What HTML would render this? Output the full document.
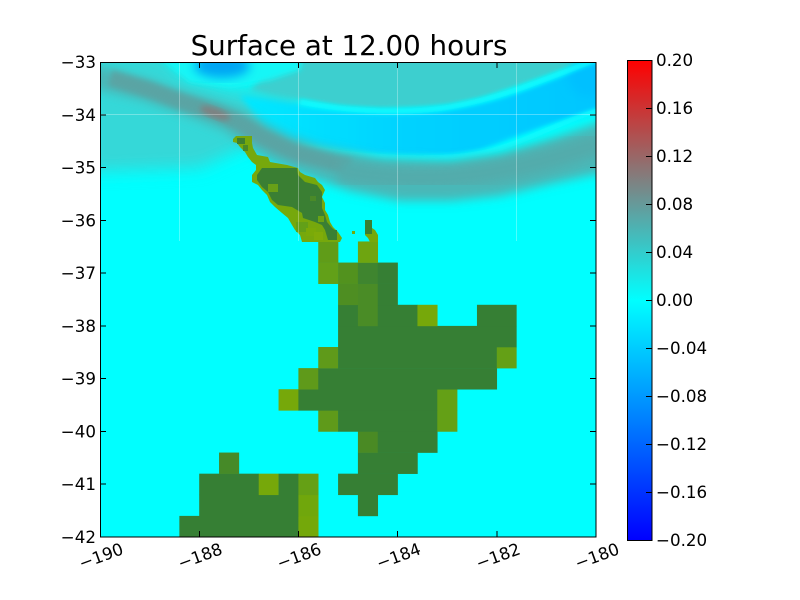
<!DOCTYPE html>
<html>
<head>
<meta charset="utf-8">
<style>
html,body{margin:0;padding:0;background:#fff;}
svg{display:block;}
text{font-family:"DejaVu Sans","Liberation Sans",sans-serif;fill:#000;}
</style>
</head>
<body>
<svg width="800" height="600" viewBox="0 0 800 600" xmlns="http://www.w3.org/2000/svg">
<defs>
  <clipPath id="plot"><rect x="100" y="62" width="496" height="475"/></clipPath>
  <filter id="b8" x="-20%" y="-20%" width="140%" height="140%"><feGaussianBlur stdDeviation="8"/></filter>
  <filter id="b5" x="-20%" y="-20%" width="140%" height="140%"><feGaussianBlur stdDeviation="5"/></filter>
  <filter id="b3" x="-20%" y="-20%" width="140%" height="140%"><feGaussianBlur stdDeviation="3"/></filter>
  <filter id="b2" x="-20%" y="-20%" width="140%" height="140%"><feGaussianBlur stdDeviation="2"/></filter>
  <linearGradient id="blueband" gradientUnits="userSpaceOnUse" x1="250" y1="0" x2="600" y2="0">
    <stop offset="0" stop-color="#00e8ff"/>
    <stop offset="0.45" stop-color="#00d2ff"/>
    <stop offset="1" stop-color="#00c6ff"/>
  </linearGradient>
  <linearGradient id="cbar" x1="0" y1="0" x2="0" y2="1">
    <stop offset="0" stop-color="#ff0000"/>
    <stop offset="0.25" stop-color="#808080"/>
    <stop offset="0.5" stop-color="#00ffff"/>
    <stop offset="1" stop-color="#0000ff"/>
  </linearGradient>
</defs>

<!-- Title -->
<text x="349" y="55" font-size="27.7" text-anchor="middle">Surface at 12.00 hours</text>

<!-- Field -->
<g clip-path="url(#plot)">
  <rect x="100" y="62" width="496" height="475" fill="#00ffff"/>
  <!-- left teal -->
  <path d="M90,50 L160,50 L185,75 L230,88 L300,95 L300,130 L240,150 L200,168 L90,172 Z" fill="#36d8d8" filter="url(#b8)"/>
  <!-- top teal -->
  <path d="M285,50 L610,50 L600,56 L560,72 L520,86 L480,100 L450,106 L420,108 L380,110 L340,108 L300,100 L270,95 L250,90 Z" fill="#3dcfcf" filter="url(#b3)"/>
  <!-- bright area around blob -->
  <path d="M150,50 L305,50 L300,70 L270,80 L230,87 L190,82 Z" fill="#14f6f6" filter="url(#b3)"/>
  <!-- blue band -->
  <path d="M240,95 C300,104 350,114 420,110 S520,92 606,56 L606,108 L580,117 L547,126 L513,138 L480,151 L450,157 L380,156 L330,149 L270,138 Z" fill="url(#blueband)" filter="url(#b3)"/>
  <ellipse cx="590" cy="78" rx="22" ry="18" fill="#00c0ff" filter="url(#b5)"/>
  <!-- cyan stripes -->
  <path d="M300,102 C350,112 410,114 450,107 S520,90 600,58" fill="none" stroke="#0cfcff" stroke-width="5" filter="url(#b2)"/>
  <path d="M300,146 C340,154 390,160 450,157 S540,128 600,110" fill="none" stroke="#0cfcff" stroke-width="5" filter="url(#b2)"/>
  <!-- gray band -->
  <path d="M90,64 L150,80 L183,92 L217,101 L245,111 L265,123 L290,136 L320,146 L380,158 L450,161 L500,154 L550,139 L606,120 L606,172 L550,184 L500,196 L450,201 L400,201 L350,191 L300,174 L270,162 L250,150 L225,131 L200,121 L170,110 L140,100 L90,88 Z" fill="#48b8b8" filter="url(#b5)"/>
  <path d="M110,78 L150,90 L183,102 L217,113 L240,123 L260,136 L283,147 L300,154 L350,167" fill="none" stroke="#5aa4a4" stroke-width="16" filter="url(#b3)"/>
  <path d="M340,170 C420,186 500,178 600,143" fill="none" stroke="#52acac" stroke-width="22" filter="url(#b5)"/>
  <ellipse cx="215" cy="113" rx="16" ry="5" transform="rotate(20 215 113)" fill="#8c7676" fill-opacity="0.75" filter="url(#b3)"/>
  <!-- blue blob -->
  <ellipse cx="222" cy="66" rx="28" ry="12" fill="#00a6f4" filter="url(#b5)"/>

  <!-- Coarse land cells -->
  <g>
    <rect x="179.36" y="515.89" width="119.3" height="21.4" fill="#367f34"/>
    <rect x="298.4" y="515.89" width="20.1" height="21.4" fill="#74a80a"/>
    <rect x="199.2" y="494.78" width="99.5" height="21.4" fill="#367f34"/>
    <rect x="298.4" y="494.78" width="20.1" height="21.4" fill="#70a70c"/>
    <rect x="357.92" y="494.78" width="20.1" height="21.4" fill="#367f34"/>
    <rect x="199.2" y="473.67" width="59.8" height="21.4" fill="#367f34"/>
    <rect x="258.72" y="473.67" width="20.1" height="21.4" fill="#76a80a"/>
    <rect x="278.56" y="473.67" width="20.1" height="21.4" fill="#367f34"/>
    <rect x="298.4" y="473.67" width="20.1" height="21.4" fill="#65a015"/>
    <rect x="338.08" y="473.67" width="59.8" height="21.4" fill="#367f34"/>
    <rect x="219.04" y="452.56" width="20.1" height="21.4" fill="#468a28"/>
    <rect x="357.92" y="452.56" width="59.8" height="21.4" fill="#367f34"/>
    <rect x="357.92" y="431.45" width="20.1" height="21.4" fill="#4a8a24"/>
    <rect x="377.76" y="431.45" width="59.8" height="21.4" fill="#367f34"/>
    <rect x="318.24" y="410.34" width="20.1" height="21.4" fill="#5f9a1a"/>
    <rect x="338.08" y="410.34" width="99.5" height="21.4" fill="#367f34"/>
    <rect x="437.28" y="410.34" width="20.1" height="21.4" fill="#64a016"/>
    <rect x="278.56" y="389.23" width="20.1" height="21.4" fill="#76a80a"/>
    <rect x="298.4" y="389.23" width="139.2" height="21.4" fill="#367f34"/>
    <rect x="437.28" y="389.23" width="20.1" height="21.4" fill="#64a016"/>
    <rect x="298.4" y="368.12" width="20.1" height="21.4" fill="#5f9a1a"/>
    <rect x="318.24" y="368.12" width="178.8" height="21.4" fill="#367f34"/>
    <rect x="318.24" y="347.01" width="20.1" height="21.4" fill="#5f9a1a"/>
    <rect x="338.08" y="347.01" width="159" height="21.4" fill="#367f34"/>
    <rect x="496.8" y="347.01" width="19.84" height="21.4" fill="#64a016"/>
    <rect x="338.08" y="325.9" width="178.56" height="21.4" fill="#367f34"/>
    <rect x="338.08" y="304.79" width="20.1" height="21.4" fill="#367f34"/>
    <rect x="357.92" y="304.79" width="20.1" height="21.4" fill="#4a8c26"/>
    <rect x="377.76" y="304.79" width="39.9" height="21.4" fill="#367f34"/>
    <rect x="417.44" y="304.79" width="20.1" height="21.4" fill="#76a80a"/>
    <rect x="476.96" y="304.79" width="39.68" height="21.4" fill="#367f34"/>
    <rect x="338.08" y="283.68" width="20.1" height="21.4" fill="#4e8e22"/>
    <rect x="357.92" y="283.68" width="20.1" height="21.4" fill="#4a8c26"/>
    <rect x="377.76" y="283.68" width="20.1" height="21.4" fill="#367f34"/>
    <rect x="318.24" y="262.57" width="20.1" height="21.4" fill="#62a018"/>
    <rect x="338.08" y="262.57" width="20.1" height="21.4" fill="#52921e"/>
    <rect x="357.92" y="262.57" width="20.1" height="21.4" fill="#3f852f"/>
    <rect x="377.76" y="262.57" width="20.1" height="21.4" fill="#367f34"/>
    <rect x="318.24" y="241.46" width="20.1" height="21.4" fill="#609c18"/>
    <rect x="357.92" y="241.46" width="20.1" height="21.4" fill="#6ea510"/>
  </g>

  <!-- Fine land (Northland) -->
  <path d="M236,136 L252,136 L252,143 L253,148 L257,155 L268,157 L270,162 L287,165 L298,168 L300,172 L305,175 L315,178 L318,182 L322,185 L325,190 L322,197 L325,203 L325,210 L328,215 L330,222 L333,227 L338,232 L342,238 L340,242 L302,242 L300,235 L295,230 L292,225 L288,218 L282,213 L275,207 L270,202 L267,195 L262,190 L258,185 L252,182 L252,175 L256,170 L256,165 L252,162 L248,157 L245,152 L240,147 L237,143 L233,142 L233,139 Z" fill="#76a80c"/>
  <path d="M262,168 L297,168 L298,175 L305,182 L317,185 L322,192 L322,208 L325,215 L327,222 L332,228 L337,232 L337,240 L328,240 L325,230 L322,225 L315,222 L303,218 L302,213 L292,207 L278,205 L272,200 L268,192 L262,187 L257,180 L257,175 Z" fill="#3a7f33"/>
  <rect x="268" y="184" width="10" height="8" fill="#68a018"/>
  <rect x="296" y="222" width="12" height="10" fill="#62a018"/>
  <rect x="306" y="228" width="10" height="8" fill="#7aaa08"/>
  <rect x="314" y="232" width="9" height="8" fill="#80ac08"/>
  <rect x="318" y="216" width="6" height="6" fill="#6aa214"/>
  <rect x="310" y="196" width="6" height="5" fill="#4a8a28"/>
  <rect x="237" y="138" width="8" height="6" fill="#3d8030"/>
  <rect x="243" y="145" width="5" height="6" fill="#4a8a28"/>
  <rect x="331" y="230" width="6" height="8" fill="#3a7f33"/>
  <!-- small island -->
  <path d="M365,220 L372,220 L372,228 L375,230 L378,235 L378,242 L370,242 L368,238 L365,235 Z" fill="#76a80c"/>
  <rect x="365" y="220" width="7" height="14" fill="#3a7f33"/>
  <rect x="352" y="231" width="3" height="3" fill="#76a80a"/>

  <!-- faint tile lines -->
  <g stroke="#ffffff" stroke-opacity="0.3" stroke-width="1">
    <line x1="100" y1="114.5" x2="596" y2="114.5"/>
    <line x1="179.5" y1="62" x2="179.5" y2="241"/>
    <line x1="298.5" y1="62" x2="298.5" y2="241"/>
    <line x1="397.5" y1="62" x2="397.5" y2="241"/>
    <line x1="516.5" y1="62" x2="516.5" y2="241"/>
  </g>
</g>

<!-- Frame -->
<rect x="100.5" y="62.5" width="495.5" height="474.5" fill="none" stroke="#000" stroke-width="1"/>

<!-- Ticks -->
<g stroke="#000" stroke-width="1">
  <line x1="100" y1="62.5" x2="106" y2="62.5"/><line x1="590" y1="62.5" x2="596" y2="62.5"/>
  <line x1="100" y1="115" x2="106" y2="115"/><line x1="590" y1="115" x2="596" y2="115"/>
  <line x1="100" y1="167.5" x2="106" y2="167.5"/><line x1="590" y1="167.5" x2="596" y2="167.5"/>
  <line x1="100" y1="220.5" x2="106" y2="220.5"/><line x1="590" y1="220.5" x2="596" y2="220.5"/>
  <line x1="100" y1="273" x2="106" y2="273"/><line x1="590" y1="273" x2="596" y2="273"/>
  <line x1="100" y1="326" x2="106" y2="326"/><line x1="590" y1="326" x2="596" y2="326"/>
  <line x1="100" y1="378.5" x2="106" y2="378.5"/><line x1="590" y1="378.5" x2="596" y2="378.5"/>
  <line x1="100" y1="431.5" x2="106" y2="431.5"/><line x1="590" y1="431.5" x2="596" y2="431.5"/>
  <line x1="100" y1="484" x2="106" y2="484"/><line x1="590" y1="484" x2="596" y2="484"/>
  <line x1="199.5" y1="62" x2="199.5" y2="68"/><line x1="199.5" y1="531" x2="199.5" y2="537"/>
  <line x1="298.5" y1="62" x2="298.5" y2="68"/><line x1="298.5" y1="531" x2="298.5" y2="537"/>
  <line x1="397.5" y1="62" x2="397.5" y2="68"/><line x1="397.5" y1="531" x2="397.5" y2="537"/>
  <line x1="497" y1="62" x2="497" y2="68"/><line x1="497" y1="531" x2="497" y2="537"/>
</g>

<!-- Y labels -->
<g font-size="16.7" text-anchor="end">
  <text x="96" y="68">−33</text>
  <text x="96" y="121">−34</text>
  <text x="96" y="173.5">−35</text>
  <text x="96" y="226.5">−36</text>
  <text x="96" y="279">−37</text>
  <text x="96" y="332">−38</text>
  <text x="96" y="384.5">−39</text>
  <text x="96" y="437.5">−40</text>
  <text x="96" y="490">−41</text>
  <text x="96" y="543">−42</text>
</g>

<!-- X labels (rotated) -->
<g font-size="16.7" text-anchor="middle">
  <text x="0" y="0" dy="0.35em" transform="translate(101,556) rotate(-20)">−190</text>
  <text x="0" y="0" dy="0.35em" transform="translate(200,556) rotate(-20)">−188</text>
  <text x="0" y="0" dy="0.35em" transform="translate(299,556) rotate(-20)">−186</text>
  <text x="0" y="0" dy="0.35em" transform="translate(398.5,556) rotate(-20)">−184</text>
  <text x="0" y="0" dy="0.35em" transform="translate(498,556) rotate(-20)">−182</text>
  <text x="0" y="0" dy="0.35em" transform="translate(597,556) rotate(-20)">−180</text>
</g>

<!-- Colorbar -->
<rect x="627" y="60" width="25" height="480" fill="url(#cbar)"/>
<rect x="627.5" y="60.5" width="24.5" height="480" fill="none" stroke="#000" stroke-width="1"/>
<g stroke="#000" stroke-width="1">
  <line x1="646" y1="108.5" x2="652" y2="108.5"/>
  <line x1="646" y1="156.5" x2="652" y2="156.5"/>
  <line x1="646" y1="204.5" x2="652" y2="204.5"/>
  <line x1="646" y1="252.5" x2="652" y2="252.5"/>
  <line x1="646" y1="300.5" x2="652" y2="300.5"/>
  <line x1="646" y1="348.5" x2="652" y2="348.5"/>
  <line x1="646" y1="396.5" x2="652" y2="396.5"/>
  <line x1="646" y1="444.5" x2="652" y2="444.5"/>
  <line x1="646" y1="492.5" x2="652" y2="492.5"/>
</g>
<g font-size="16.7" text-anchor="start">
  <text x="656" y="66">0.20</text>
  <text x="656" y="114">0.16</text>
  <text x="656" y="162">0.12</text>
  <text x="656" y="210">0.08</text>
  <text x="656" y="258">0.04</text>
  <text x="656" y="306">0.00</text>
  <text x="656" y="354">−0.04</text>
  <text x="656" y="402">−0.08</text>
  <text x="656" y="450">−0.12</text>
  <text x="656" y="498">−0.16</text>
  <text x="656" y="546">−0.20</text>
</g>
</svg>
</body>
</html>
